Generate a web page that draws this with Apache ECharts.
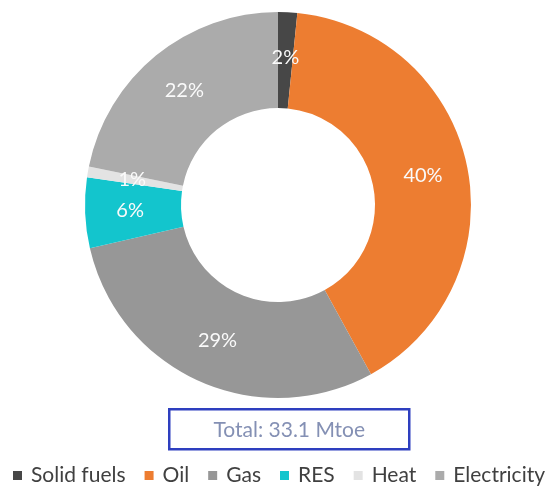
<!DOCTYPE html>
<html>
<head>
<meta charset="utf-8">
<script src="https://cdn.jsdelivr.net/npm/echarts@6/dist/echarts.min.js"></script>
<style>html,body{margin:0;padding:0;background:#fff;}#c{width:553px;height:486px;}</style>
</head>
<body>
<div id="c"></div>
<script>
var categories = ['Solid fuels', 'Oil', 'Gas', 'RES', 'Heat', 'Electricity'];
var shares = [1.6, 40.4, 29.4, 5.9, 0.9, 21.8];
var colors = ['#474747', '#ED7D31', '#979797', '#13C5CD', '#E3E3E3', '#ABABAB'];
var totalLabel = 'Total: 33.1 Mtoe';

var chart = echarts.init(document.getElementById('c'), null, {renderer: 'canvas'});
var font = 'Lato, "Open Sans", sans-serif';
chart.setOption({
  animation: false,
  color: colors,
  legend: {
    data: categories,
    left: 8,
    top: 460,
    itemWidth: 9,
    itemHeight: 9,
    itemGap: 19,
    icon: 'rect',
    textStyle: {fontSize: 21, color: '#404040', fontFamily: font, padding: [0, 0, 0, 4]}
  },
  series: [{
    type: 'pie',
    center: [278, 205],
    radius: [97, 193],
    startAngle: 90,
    clockwise: true,
    avoidLabelOverlap: false,
    label: {
      show: true,
      position: 'inside',
      color: '#fafafa',
      fontSize: 20,
      fontFamily: font,
      formatter: function (p) { return Math.round(p.value) + '%'; }
    },
    labelLine: {show: false},
    itemStyle: {borderWidth: 0},
    data: categories.map(function (n, i) { return {name: n, value: shares[i]}; })
  }],
  graphic: [{
    type: 'group',
    left: 168,
    top: 408,
    children: [{
      type: 'rect',
      shape: {x: 0, y: 0, width: 240, height: 40},
      style: {fill: '#ffffff', stroke: '#2E3FBF', lineWidth: 2.5}
    }, {
      type: 'text',
      x: 120,
      y: 21,
      style: {text: totalLabel, fill: '#8490B4', fontSize: 21, fontFamily: font, align: 'center', verticalAlign: 'middle'}
    }]
  }]
});
</script>
</body>
</html>
